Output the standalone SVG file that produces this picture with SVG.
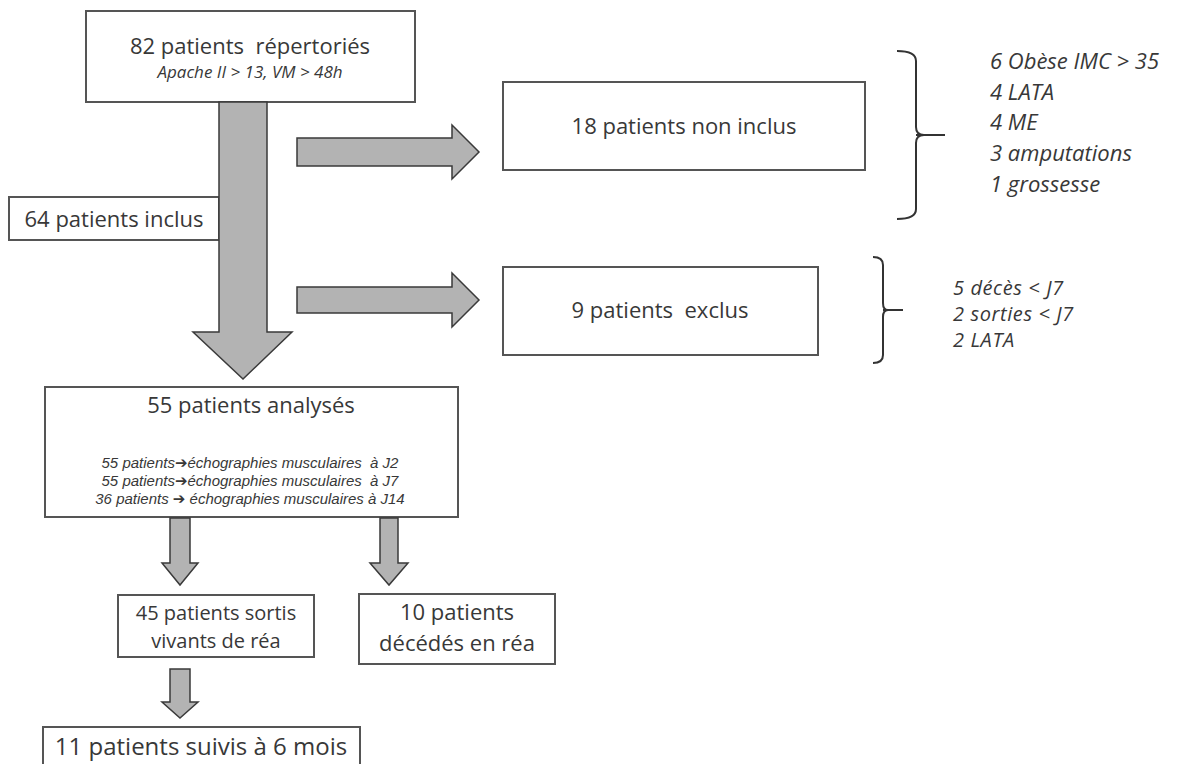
<svg xmlns="http://www.w3.org/2000/svg" width="1187" height="764" viewBox="0 0 1187 764">
<style>
.box{fill:#fff;stroke:#555;stroke-width:2}
.arr{fill:#b3b3b3;stroke:#3a3a3a;stroke-width:1.5;stroke-linejoin:miter}
.brk{fill:none;stroke:#333;stroke-width:2}
text{font-family:"Open Sans","Liberation Sans",sans-serif;fill:#383838;white-space:pre}
.t{font-size:22px;text-anchor:middle}
.i{font-style:italic}
.sm{font-family:"Liberation Sans",Arial,sans-serif;font-size:15px;font-style:italic;text-anchor:middle}
.ar{font-family:"DejaVu Sans",sans-serif;font-style:normal;font-weight:bold}
</style>
<rect width="1187" height="764" fill="#fff"/>
<g id="n-top">
<rect class="box" x="86" y="11" width="329" height="91"/>
<text class="t" x="250" y="54">82 patients  répertoriés</text>
<text class="t i" x="250" y="78" style="font-size:17px">Apache II &gt; 13, VM &gt; 48h</text>
</g>
<g id="n-inclus">
<rect class="box" x="9" y="197" width="210" height="43"/>
<text class="t" x="114" y="227">64 patients inclus</text>
</g>
<g id="n-noninclus">
<rect class="box" x="503" y="82" width="362" height="88"/>
<text class="t" x="684" y="134">18 patients non inclus</text>
</g>
<g id="n-exclus">
<rect class="box" x="503" y="267" width="315" height="88"/>
<text class="t" x="660" y="318">9 patients  exclus</text>
</g>
<g id="n-analyses">
<rect class="box" x="45" y="387" width="413" height="130"/>
<text class="t" x="251" y="413">55 patients analysés</text>
<text class="sm" x="250" y="468">55 patients<tspan class="ar">➔</tspan>échographies musculaires  à J2</text>
<text class="sm" x="250" y="486">55 patients<tspan class="ar">➔</tspan>échographies musculaires  à J7</text>
<text class="sm" x="250" y="504">36 patients <tspan class="ar">➔</tspan> échographies musculaires à J14</text>
</g>
<g id="n-sortis">
<rect class="box" x="118" y="595" width="196" height="62"/>
<text class="t" x="216" y="620" style="font-size:20px">45 patients sortis</text>
<text class="t" x="216" y="648" style="font-size:20px">vivants de réa</text>
</g>
<g id="n-decedes">
<rect class="box" x="359" y="594" width="196" height="70"/>
<text class="t" x="457" y="620">10 patients</text>
<text class="t" x="457" y="651">décédés en réa</text>
</g>
<g id="n-suivis">
<rect class="box" x="43" y="727" width="317" height="60"/>
<text class="t" x="201" y="755" style="font-size:24px">11 patients suivis à 6 mois</text>
</g>
<g id="n-list1">
<path class="brk" d="M897,51 Q916,51 916,61 V127 Q916,135 924,135 Q916,135 916,143 V209 Q916,219 897,219 M916,135 H945"/>
<text class="i" x="990" y="69" font-size="22">6 Obèse IMC &gt; 35</text>
<text class="i" x="990" y="100" font-size="22">4 LATA</text>
<text class="i" x="990" y="130" font-size="22">4 ME</text>
<text class="i" x="990" y="161" font-size="22">3 amputations</text>
<text class="i" x="990" y="192" font-size="22">1 grossesse</text>
</g>
<g id="n-list2">
<path class="brk" d="M873,257 Q883,257 883,265 V303 Q883,310 888,310 Q883,310 883,317 V355 Q883,363 873,363 M883,310 H903"/>
<text class="i" x="953" y="295" font-size="20" letter-spacing="0.6">5 décès &lt; J7</text>
<text class="i" x="953" y="321" font-size="20" letter-spacing="0.6">2 sorties &lt; J7</text>
<text class="i" x="953" y="347" font-size="20" letter-spacing="0.6">2 LATA</text>
</g>
<g id="connectors">
<polygon class="arr" points="219,102 267,102 267,332 292,332 243,379 193,332 219,332"/>
<polygon class="arr" points="297,138 452,138 452,125 479,152 452,179 452,166 297,166"/>
<polygon class="arr" points="297,287 452,287 452,273 479,300 452,327 452,313 297,313"/>
<polygon class="arr" points="170,518 190,518 190,563 198,563 180,585 162,563 170,563"/>
<polygon class="arr" points="380,518 398,518 398,563 408,563 389,585 370,563 380,563"/>
<polygon class="arr" points="170,669 190,669 190,702 198,702 180,718 162,702 170,702"/>
</g>
</svg>
